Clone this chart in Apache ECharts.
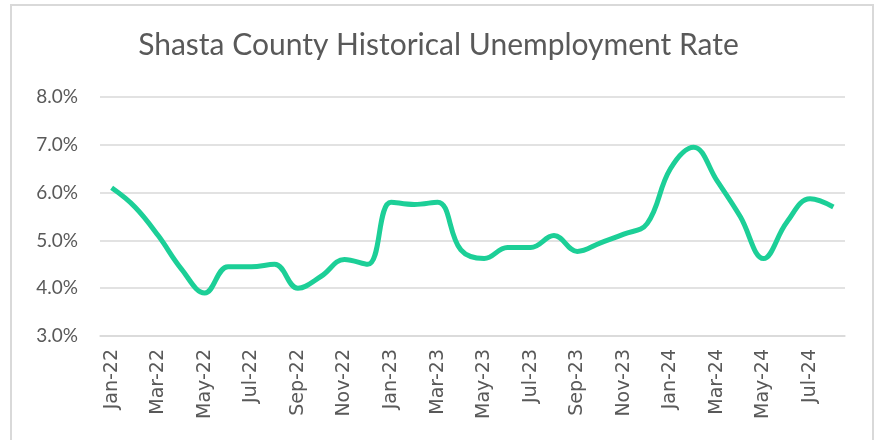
<!DOCTYPE html>
<html>
<head>
<meta charset="utf-8">
<script src="https://cdn.jsdelivr.net/npm/echarts@6/dist/echarts.min.js"></script>
<style>
  html, body { margin: 0; padding: 0; background: #fff; }
  #chart { width: 877px; height: 440px; }
</style>
</head>
<body>
<div id="chart"></div>
<script>
var months = [
  'Jan-22', 'Feb-22', 'Mar-22', 'Apr-22', 'May-22', 'Jun-22', 'Jul-22', 'Aug-22',
  'Sep-22', 'Oct-22', 'Nov-22', 'Dec-22', 'Jan-23', 'Feb-23', 'Mar-23', 'Apr-23',
  'May-23', 'Jun-23', 'Jul-23', 'Aug-23', 'Sep-23', 'Oct-23', 'Nov-23', 'Dec-23',
  'Jan-24', 'Feb-24', 'Mar-24', 'Apr-24', 'May-24', 'Jun-24', 'Jul-24', 'Aug-24'
];

// unemployment rate, percent
var rate = [
  6.1, 5.7, 5.1, 4.4, 3.9, 4.45, 4.45, 4.5,
  4.0, 4.25, 4.6, 4.5, 5.8, 5.75, 5.8, 4.8,
  4.62, 4.85, 4.85, 5.1, 4.77, 4.95, 5.13, 5.35,
  6.5, 6.95, 6.25, 5.5, 4.62, 5.38, 5.87, 5.7
];

var chart = echarts.init(document.getElementById('chart'));

var option = {
  animation: false,
  title: {
    text: 'Shasta County Historical Unemployment Rate',
    left: 'center',
    top: 25,
    textStyle: {
      fontFamily: 'Lato',
      fontSize: 30,
      fontWeight: 'normal',
      color: '#595959'
    }
  },
  graphic: [{
    type: 'rect',
    shape: { x: 11, y: 5, width: 862, height: 450 },
    style: { fill: 'none', stroke: '#d9d9d9', lineWidth: 2 },
    silent: true
  }],
  grid: { left: 100, right: 32, top: 97, bottom: 104 },
  xAxis: {
    type: 'category',
    data: months,
    boundaryGap: true,
    axisLine: { lineStyle: { color: '#d9d9d9', width: 1.5 } },
    axisTick: { interval: 1, length: 5, lineStyle: { color: '#d9d9d9', width: 1.5 } },
    axisLabel: {
      interval: 1,
      rotate: 90,
      margin: 13,
      fontFamily: 'DejaVu Sans',
      fontSize: 19,
      color: '#595959'
    }
  },
  yAxis: {
    type: 'value',
    min: 3,
    max: 8,
    interval: 1,
    axisLine: { show: false },
    axisTick: { show: false },
    splitLine: { lineStyle: { color: '#d9d9d9', width: 1.5 } },
    axisLabel: {
      margin: 22,
      fontFamily: 'Lato',
      fontSize: 19,
      color: '#595959',
      formatter: function (v) { return v.toFixed(1) + '%'; }
    }
  },
  series: [{
    type: 'line',
    data: rate,
    smooth: 0.4,
    symbol: 'none',
    lineStyle: { color: '#1ccf97', width: 5 }
  }]
};

chart.setOption(option);
</script>
</body>
</html>
